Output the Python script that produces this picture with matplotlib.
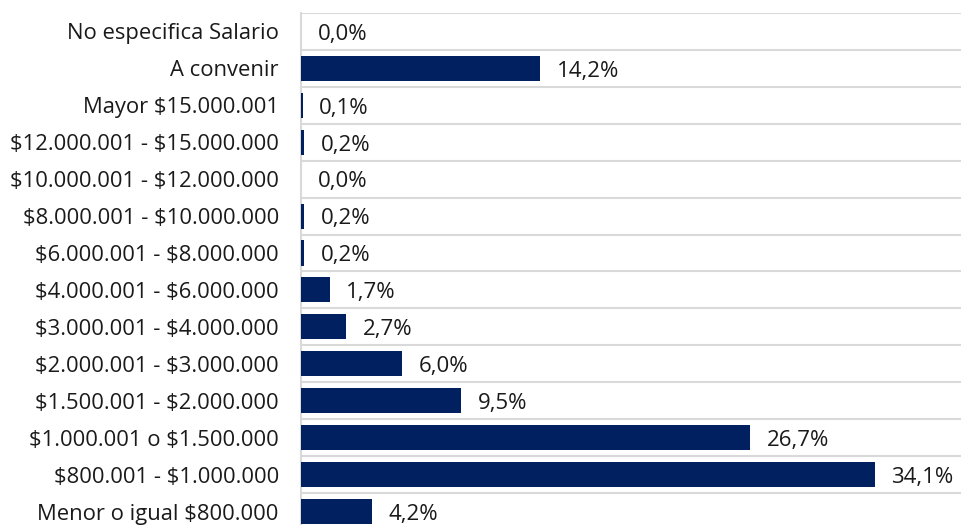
import numpy as np
import matplotlib
matplotlib.use("Agg")
import matplotlib.pyplot as plt

# rangos salariales (de arriba hacia abajo) y porcentaje de ofertas
categorias = ["No especifica Salario", "A convenir", "Mayor $15.000.001",
              "$12.000.001 - $15.000.000", "$10.000.001 - $12.000.000",
              "$8.000.001 - $10.000.000", "$6.000.001 - $8.000.000",
              "$4.000.001 - $6.000.000", "$3.000.001 - $4.000.000",
              "$2.000.001 - $3.000.000", "$1.500.001 - $2.000.000",
              "$1.000.001 o $1.500.000", "$800.001 - $1.000.000",
              "Menor o igual $800.000"]
porcentajes = [0.0, 14.2, 0.1, 0.2, 0.0, 0.2, 0.2, 1.7, 2.7, 6.0, 9.5, 26.7, 34.1, 4.2]

plt.rcParams['font.family'] = ['Open Sans', 'DejaVu Sans']
plt.rcParams['text.parse_math'] = False

fig = plt.figure(figsize=(9.62, 5.25), dpi=100)
ax = fig.add_axes([0.3129, -0.0095, 0.6996, 0.9848])

y = np.arange(len(categorias))
ax.barh(y, porcentajes, height=0.68, color="#002060", zorder=3)

for yi, v in zip(y, porcentajes):
    txt = "{:.1f}%".format(v).replace(".", ",")
    ax.annotate(txt, (v, yi), xytext=(12, -2), textcoords="offset points",
                va="center", ha="left", fontsize=16, color="#1a1a1a")

ax.set_xlim(0, 40)
ax.set_ylim(len(categorias) - 0.5, -0.5)
ax.set_yticks(y)
ax.set_yticklabels(categorias, fontsize=15.8, color="#1a1a1a")
ax.set_yticks(y - 0.5, minor=True)
ax.tick_params(axis="y", which="both", length=0, pad=16)
ax.set_xticks([])
ax.grid(which="minor", axis="y", color="#d9d9d9", linewidth=1.5, zorder=0)

for s in ["top", "right", "bottom"]:
    ax.spines[s].set_visible(False)
ax.spines["left"].set_color("#d9d9d9")
ax.spines["left"].set_linewidth(1.5)

fig.savefig("out.png", dpi=100)
